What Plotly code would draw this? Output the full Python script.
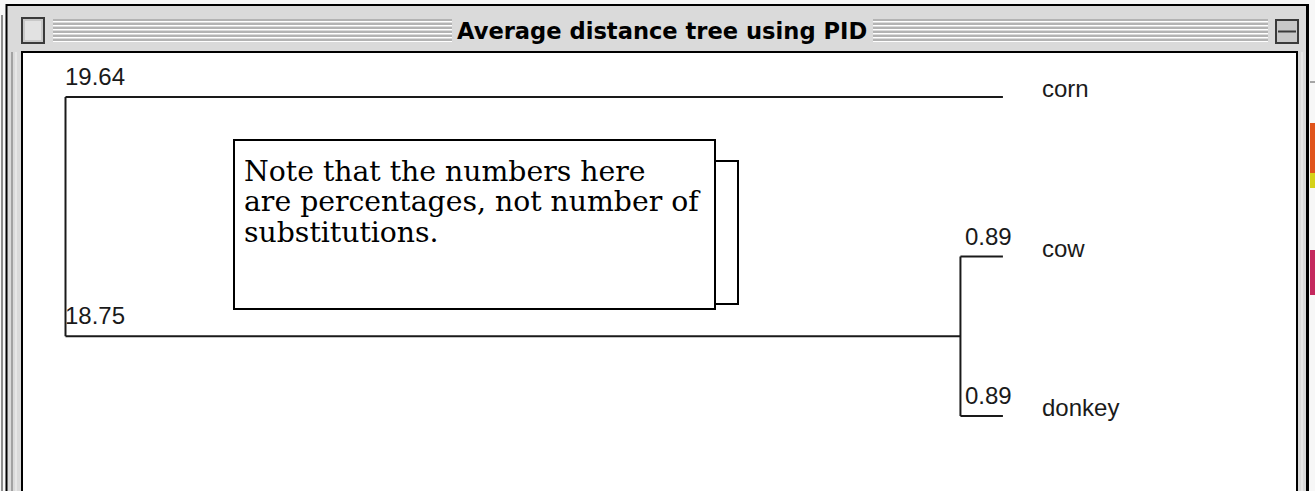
import plotly.graph_objects as go

# ---------------- data ----------------
node_names = ["root", "corn", "cow+donkey", "cow", "donkey"]
node_parent = [None, "root", "root", "cow+donkey", "cow+donkey"]
branch_length = [0.0, 19.64, 18.75, 0.89, 0.89]
branch_label = ["", "19.64", "18.75", "0.89", "0.89"]
leaf_order = ["corn", "cow", "donkey"]
title_text = "Average distance tree using PID"
note_lines = ["Note that the numbers here",
              "are percentages, not number of",
              "substitutions."]

# ---------------- tree geometry from data ----------------
parent = dict(zip(node_names, node_parent))
blen = dict(zip(node_names, branch_length))
blab = dict(zip(node_names, branch_label))
children = {n: [c for c in node_names if parent[c] == n] for n in node_names}

xpos = {}
def set_x(n, base):
    xpos[n] = base + blen[n]
    for c in children[n]:
        set_x(c, xpos[n])
set_x("root", 0.0)

ypos = {}
def set_y(n):
    if not children[n]:
        ypos[n] = float(leaf_order.index(n))
    else:
        for c in children[n]:
            set_y(c)
        ys = [ypos[c] for c in children[n]]
        ypos[n] = sum(ys) / len(ys)
set_y("root")

lx, ly = [], []
for n in node_names:
    if parent[n] is not None:
        lx += [xpos[parent[n]], xpos[n], None]
        ly += [ypos[n], ypos[n], None]
    if children[n]:
        ys = [ypos[c] for c in children[n]]
        lx += [xpos[n], xpos[n], None]
        ly += [min(ys), max(ys), None]

# ---------------- canvas mapping ----------------
W, H = 1315, 491
PX_PER_UNIT = 47.73
ROOT_PX = 65.5
LEAF0_PX = 97.0
LEAF_STEP_PX = 159.5

def X(p):
    return p / W

def Y(p):
    return 1 - p / H

fig = go.Figure()
fig.add_trace(go.Scatter(x=lx, y=ly, mode="lines",
                         line=dict(color="#1a1a1a", width=2),
                         hoverinfo="skip", showlegend=False))

shapes = []
def rect(x0, y0, x1, y1, fill, line_color=None, lw=0, layer="below"):
    shapes.append(dict(type="rect", xref="paper", yref="paper",
                       x0=X(x0), x1=X(x1), y0=Y(y1), y1=Y(y0),
                       fillcolor=fill,
                       line=dict(color=line_color or fill, width=lw),
                       layer=layer))

def hline(x0, x1, y, color, lw=1, layer="below"):
    shapes.append(dict(type="line", xref="paper", yref="paper",
                       x0=X(x0), x1=X(x1), y0=Y(y), y1=Y(y),
                       line=dict(color=color, width=lw), layer=layer))

def vline(x, y0, y1, color, lw=1, layer="below"):
    shapes.append(dict(type="line", xref="paper", yref="paper",
                       x0=X(x), x1=X(x), y0=Y(y0), y1=Y(y1),
                       line=dict(color=color, width=lw), layer=layer))

# outside background
rect(0, 0, W, H, "#f7f7f7")
# colored bits of other windows at the far right
hline(1310, W, 82, "#555555", 1)
rect(1310, 123, W, 173, "#e0541c")
rect(1310, 173, W, 188, "#d6d21a")
rect(1310, 250, W, 295, "#c4295e")
# small marks at far left
rect(9, 60, 11, 75, "#111111")
rect(9, 240, 11, 252, "#111111")
vline(2, 15, H, "#222222", 1)

# window frame
rect(6, 4, 1309, H + 2, "#dadada")
vline(6.5, 4, H, "#000000", 2)
hline(6, 1309, 5, "#000000", 2)
vline(1307.5, 4, H, "#000000", 3)
vline(12, 52, H, "#6a6a6a", 1)
vline(16, 52, H, "#f4f4f4", 1)
vline(1302, 52, H, "#f4f4f4", 1)

# title bar stripes
for yy in [20, 24, 28, 32, 36, 40]:
    hline(53, 452, yy, "#8c8c8c", 1)
    hline(53, 452, yy + 1.5, "#ffffff", 1)
    hline(873, 1268, yy, "#8c8c8c", 1)
    hline(873, 1268, yy + 1.5, "#ffffff", 1)

# close box & zoom box
rect(22, 18, 44, 43, "#c8c8c8", "#3a3a3a", 2)
rect(25, 21, 41, 40, "#e2e2e2", "#e2e2e2", 0)
rect(1276, 20, 1298, 43, "#c8c8c8", "#3a3a3a", 2)
hline(1278, 1296, 31.5, "#3a3a3a", 2)

# content area
rect(22, 52, 1297, H + 5, "#ffffff", "#000000", 2)

# note boxes
rect(600, 161, 738, 304, "#ffffff", "#000000", 2, layer="above")
rect(234, 140, 715, 309, "#ffffff", "#000000", 2, layer="above")

annotations = []
# title
annotations.append(dict(xref="paper", yref="paper", x=X(662), y=Y(31),
                        text="<b>" + title_text + "</b>", showarrow=False,
                        xanchor="center", yanchor="middle",
                        font=dict(family="DejaVu Sans", size=22.6, color="#000000"),
                        bgcolor="#dadada", borderpad=3))

# branch length labels
for n in node_names:
    if parent[n] is None:
        continue
    annotations.append(dict(x=xpos[parent[n]], y=ypos[n], xref="x", yref="y",
                            text=blab[n], showarrow=False,
                            xanchor="left", yanchor="bottom",
                            xshift=(-3 if parent[n] == "root" else 3), yshift=5,
                            font=dict(family="Liberation Sans", size=24, color="#1a1a1a")))

# leaf names
for n in leaf_order:
    annotations.append(dict(x=xpos[n], y=ypos[n], xref="x", yref="y",
                            text=n, showarrow=False,
                            xanchor="left", yanchor="bottom",
                            xshift=37, yshift=-7,
                            font=dict(family="Liberation Sans", size=24, color="#1a1a1a")))

# note text
for i, t in enumerate(note_lines):
    annotations.append(dict(xref="paper", yref="paper", x=X(243), y=Y(171 + 30.7 * i),
                            text=t, showarrow=False, xanchor="left", yanchor="middle",
                            borderpad=0,
                            font=dict(family="DejaVu Serif", size=28.3, color="#000000")))

x_left = -ROOT_PX / PX_PER_UNIT
x_right = (W - ROOT_PX) / PX_PER_UNIT
y_top = -LEAF0_PX / LEAF_STEP_PX
y_bottom = (H - LEAF0_PX) / LEAF_STEP_PX

fig.update_layout(
    width=W, height=H, autosize=False,
    margin=dict(l=0, r=0, t=0, b=0, pad=0),
    paper_bgcolor="#ffffff", plot_bgcolor="rgba(0,0,0,0)",
    xaxis=dict(range=[x_left, x_right], visible=False, fixedrange=True),
    yaxis=dict(range=[y_bottom, y_top], visible=False, fixedrange=True),
    shapes=shapes, annotations=annotations, showlegend=False,
)

fig.write_html("out.html", config={"displayModeBar": False},
               post_script="document.body.style.margin='0px';document.body.style.overflow='hidden';")
